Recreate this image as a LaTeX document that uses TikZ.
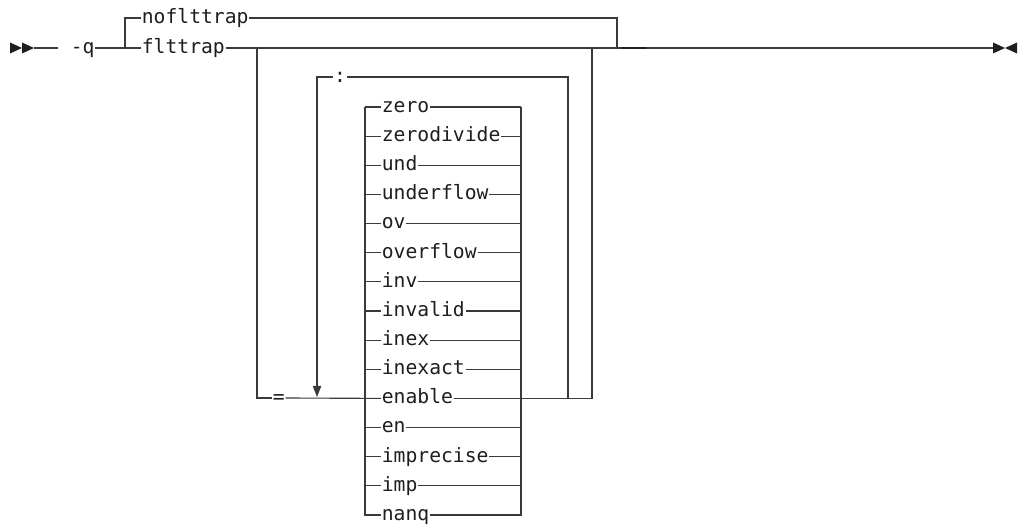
\documentclass[tikz,border=0pt]{standalone}
\usepackage{fontspec}
\usepackage{tikz}
\usetikzlibrary{arrows.meta,calc}
\newfontfamily\synmono{DejaVu Sans Mono}
\definecolor{SynInk}{HTML}{1E1E1E}
\definecolor{SynLine}{HTML}{3A3A3A}
\tikzset{
  rail/.style={draw=SynLine, line width=0.8pt},
  railbold/.style={draw=SynInk, line width=1.7pt},
  railarrow/.style={rail, -{Triangle[width=6pt,length=8pt]}},
  endmark/.style={fill=SynInk, draw=none},
  kw/.style={font=\synmono\fontsize{14pt}{16pt}\selectfont, text=SynInk, inner xsep=0.4pt, inner ysep=0pt,
    text height=11pt, text depth=3.4pt, anchor=west}
}
\begin{document}
\begin{tikzpicture}[x=0.025cm, y=-0.025cm]
\useasboundingbox (0,0) rectangle (1018,525);
% start and end marks
\fill[endmark] (10,42.5) -- (22,48) -- (10,53.5) -- cycle;
\fill[endmark] (22,42.5) -- (34,48) -- (22,53.5) -- cycle;
\fill[endmark] (993,42.5) -- (1005,48) -- (993,53.5) -- cycle;
\fill[endmark] (1017,42.5) -- (1005,48) -- (1017,53.5) -- cycle;
\coordinate (st) at (34,48);
\coordinate (fin) at (993,48);
% option -q
\node[kw] (q) at (70,48) {-q};
\node[kw] (noflt) at (141,18) {noflttrap};
\node[kw] (flt) at (141,48) {flttrap};
\coordinate (bq) at (125,48);
\coordinate (jn) at (617,48);
\draw[rail] (st) -- ++(24,0);
\draw[rail] (q.east) -- (flt.west);
\draw[rail] (bq) |- (noflt.west);
\draw[rail] (noflt.east) -| (jn);
\draw[rail] (flt.east) -- (fin);
\draw[railbold] (622,48) -- (646,48);
% suboptions
\coordinate (lp) at (257,48);
\coordinate (rp) at (592,48);
\coordinate (cr) at (568,398);
\coordinate (ca) at (317,397);
\node[kw] (eq) at (272,398) {=};
\node[kw, anchor=center] (colon) at (340,77) {:};
\foreach \w [count=\i from 0, evaluate=\i as \y using 107+29.14*\i] in
  {zero,zerodivide,und,underflow,ov,overflow,inv,invalid,inex,inexact,enable,en,imprecise,imp,nanq}{
  \node[kw] (o\i) at (381,\y) {\w};
  \draw[rail] (365,\y) -- (o\i.west);
  \draw[rail] (o\i.east) -- (521,\y);
}
\draw[rail] (365,107) -- (365,515.96);
\draw[rail] (521,107) -- (521,515.96);
\draw[rail] (lp) |- (eq.west);
\draw[rail] (eq.east) -- (o10.west);
\draw[rail] (o10.east) -| (rp);
\draw[rail] (cr) |- (colon.east);
\draw[railarrow] (colon.west) -| (ca);
\end{tikzpicture}
\end{document}
